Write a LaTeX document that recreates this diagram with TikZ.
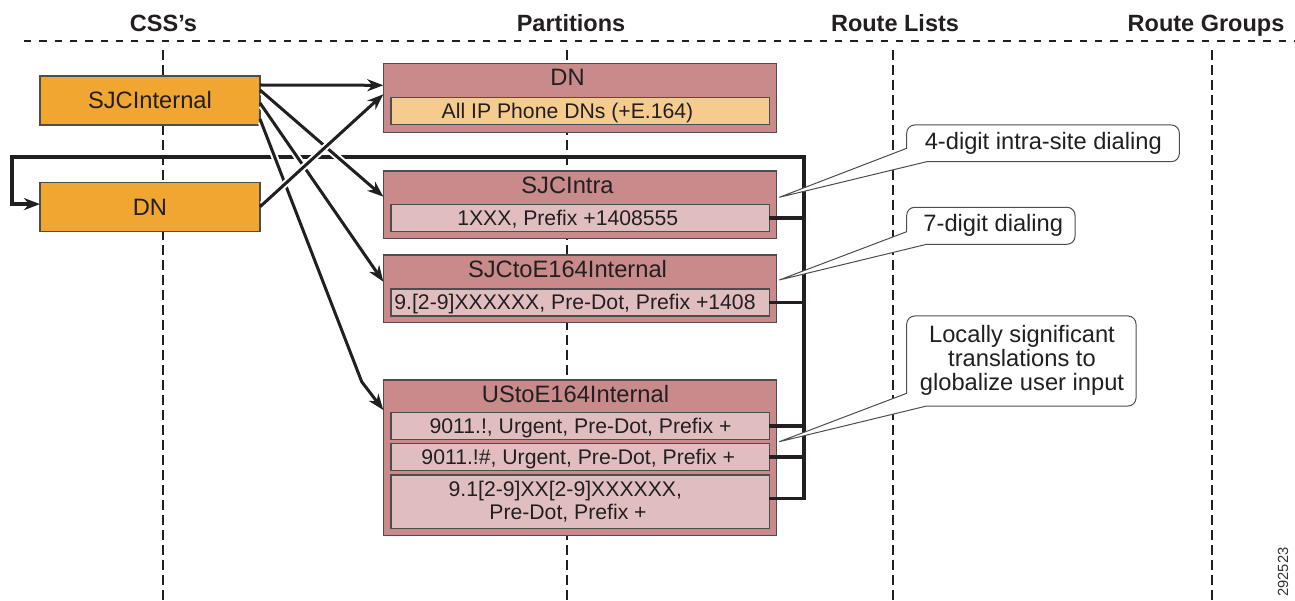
\documentclass[tikz,border=0pt]{standalone}
\usepackage{fontspec}
\setmainfont{Liberation Sans}
\usetikzlibrary{arrows.meta,calc}
\definecolor{ink}{HTML}{231F20}
\definecolor{edge}{HTML}{4D4D4D}
\definecolor{cssorange}{HTML}{F0A630}
\definecolor{partfill}{HTML}{C88A8A}
\definecolor{subpink}{HTML}{E0BEC0}
\definecolor{subdn}{HTML}{F5CC8E}
\definecolor{numgray}{HTML}{333333}
\begin{document}
\begin{tikzpicture}[x=1pt,y=-1pt,
  every node/.style={inner sep=0pt,outer sep=0pt,text=ink},
  head/.style={anchor=base,font=\fontsize{23.5}{24}\selectfont\bfseries},
  ttl/.style={anchor=base,font=\fontsize{23.7}{24}\selectfont},
  subtxt/.style={anchor=base,font=\fontsize{21.2}{24}\selectfont},
  hdash/.style={draw=ink,line width=2pt,dash pattern=on 7.3pt off 8pt},
  vdash/.style={draw=ink,line width=2pt,dash pattern=on 10pt off 5pt},
  cssbox/.style={draw=edge,line width=1.2pt,fill=cssorange,minimum width=220pt,minimum height=49pt,
    anchor=north west,text height=17pt,text depth=0pt,font=\fontsize{23.7}{24}\selectfont},
  partbox/.style={draw=edge,line width=1.2pt,fill=partfill,minimum width=393.4pt,anchor=north west},
  subbox/.style={draw=edge,line width=1.1pt,fill=subpink,minimum width=378.3pt,anchor=north west},
  bracket/.style={draw=ink,line width=3.5pt,line join=miter},
  conn/.style={draw=ink,line width=3pt,-{Stealth[length=16pt,width=12pt,inset=5pt]}},
  casing/.style={draw=white,line width=7pt,shorten >=16pt,shorten <=3pt},
  callout/.style={draw=edge,line width=1pt,fill=white,line join=miter},
  ctext/.style={anchor=base,font=\fontsize{23.7}{24}\selectfont}
]
\useasboundingbox (0,0) rectangle (1295,601);

% column guides
\draw[hdash] (24,41) -- (1295,41);
\draw[vdash] (162.7,50) -- (162.7,601);
\draw[vdash] (566.7,50) -- (566.7,601);
\draw[vdash] (893.3,50) -- (893.3,601);
\draw[vdash] (1211.5,50) -- (1211.5,601);

% headings
\node[head] (hcss) at (163.5,31.5) {CSS’s};
\node[head] (hpart) at (571,31.5) {Partitions};
\node[head] (hrl) at (895,31.5) {Route Lists};
\node[head] (hrg) at (1206,31.5) {Route Groups};

% CSS boxes
\node[cssbox] (sjc) at (40,76) {SJCInternal};
\node[cssbox] (dn) at (40,182.3) {DN};

% partitions
\node[partbox,minimum height=69.4pt] (p1) at (383.3,63.3) {};
\node[subbox,fill=subdn,minimum height=26.6pt] (s0) at (391,97.7) {};
\node[ttl] (t0) at (567.5,86) {DN};
\node[subtxt] (t0s) at (567.5,118.3) {All IP Phone DNs (+E.164)};

\node[partbox,minimum height=67.3pt] (p2) at (383.3,171) {};
\node[subbox,minimum height=27.4pt] (s1) at (391,204.3) {};
\node[ttl] (t1) at (567.5,193.3) {SJCIntra};
\node[subtxt] (t1s) at (567.8,226) {1XXX, Prefix +1408555};

\node[partbox,minimum height=67.3pt] (p3) at (383.3,255) {};
\node[subbox,minimum height=27pt] (s2) at (391,289) {};
\node[ttl] (t2) at (567.5,277.3) {SJCtoE164Internal};
\node[subtxt] (t2s) at (575,310) {9.[2-9]XXXXXX, Pre-Dot, Prefix +1408};

\node[partbox,minimum height=155.7pt] (p4) at (383.3,380) {};
\node[subbox,minimum height=27pt] (s3) at (391,412.3) {};
\node[subbox,minimum height=27.4pt] (s4) at (391,443.3) {};
\node[subbox,minimum height=53.3pt] (s5) at (391,475) {};
\node[ttl] (t3) at (575.5,402.3) {UStoE164Internal};
\node[subtxt] (t3a) at (580.5,433.3) {9011.!, Urgent, Pre-Dot, Prefix +};
\node[subtxt] (t3b) at (578.3,464) {9011.!\#, Urgent, Pre-Dot, Prefix +};
\node[subtxt] (t3c) at (565.3,496.7) {9.1[2-9]XX[2-9]XXXXXX,};
\node[subtxt] (t3d) at (568,519.3) {Pre-Dot, Prefix +};

% bracket back to the DN calling search space
\coordinate (bx) at (804,157);
\coordinate (bl) at (12,157);
\coordinate (dnin) at ($(dn.west)+(0,-2.7)$);
\coordinate (s5out) at ($(s5.east)+(0,-3.4)$);
\draw[bracket] (s1.east) -- (s1.east -| bx);
\draw[bracket] (s2.east) -- (s2.east -| bx);
\draw[bracket] (s3.east) -- (s3.east -| bx);
\draw[bracket] (s4.east) -- (s4.east -| bx);
\draw[bracket,-{Stealth[length=16pt,width=12pt,inset=5pt]}] (s5out) -- (s5out -| bx) -- (bx) -- (bl) -- (bl |- dnin) -- (dnin);

% connectors from SJCInternal
\coordinate (kink) at (361.7,381.7);
\draw[casing] ($(sjc.north east)+(0,43)$) -- (kink) -- ($(p4.north west)+(0,30)$);
\draw[conn] ($(sjc.north east)+(0,43)$) -- (kink) -- ($(p4.north west)+(0,30)$);
\draw[casing] ($(sjc.north east)+(0,27)$) -- ($(p3.north west)+(0,26.7)$);
\draw[conn] ($(sjc.north east)+(0,27)$) -- ($(p3.north west)+(0,26.7)$);
\draw[casing] ($(sjc.north east)+(0,14)$) -- ($(p2.north west)+(0,25.7)$);
\draw[conn] ($(sjc.north east)+(0,14)$) -- ($(p2.north west)+(0,25.7)$);
\draw[conn] ($(sjc.north east)+(0,9)$) -- ($(p1.north west)+(0,22)$);
% connector from DN
\draw[casing] (dn.east) -- ($(p1.north west)+(0,31)$);
\draw[conn] (dn.east) -- ($(p1.north west)+(0,31)$);

% callouts
\coordinate (tip1) at ($(p2.north east)+(2.6,26.3)$);
\coordinate (tip2) at ($(p3.north east)+(2.6,25)$);
\coordinate (tip3) at ($(p4.north east)+(2.6,61.7)$);
\draw[callout] (tip1) -- (906.7,148.3) -- (906.7,133) arc[start angle=180,end angle=270,radius=8]
  -- (1171.3,125) arc[start angle=270,end angle=360,radius=8]
  -- (1179.3,153.7) arc[start angle=0,end angle=90,radius=8] -- (926.7,161.7) -- cycle;
\node[ctext] (c1) at (1043.3,150) {4-digit intra-site dialing};
\draw[callout] (tip2) -- (906.7,231.7) -- (906.7,215.3) arc[start angle=180,end angle=270,radius=8]
  -- (1067,207.3) arc[start angle=270,end angle=360,radius=8]
  -- (1075,236.3) arc[start angle=0,end angle=90,radius=8] -- (926.7,244.3) -- cycle;
\node[ctext] (c2) at (993.3,231.7) {7-digit dialing};
\draw[callout] (tip3) -- (906.7,393.3) -- (906.7,324) arc[start angle=180,end angle=270,radius=8]
  -- (1128,316) arc[start angle=270,end angle=360,radius=8]
  -- (1136,398) arc[start angle=0,end angle=90,radius=8] -- (926.7,406) -- cycle;
\node[ctext] (c3a) at (1022,342.7) {Locally significant};
\node[ctext] (c3b) at (1022,366.7) {translations to};
\node[ctext] (c3c) at (1022,390) {globalize user input};

% figure number
\node[rotate=90,font=\fontsize{14.7}{15}\selectfont,text=numgray] (fig) at (1283,572) {292523};
\end{tikzpicture}
\end{document}
